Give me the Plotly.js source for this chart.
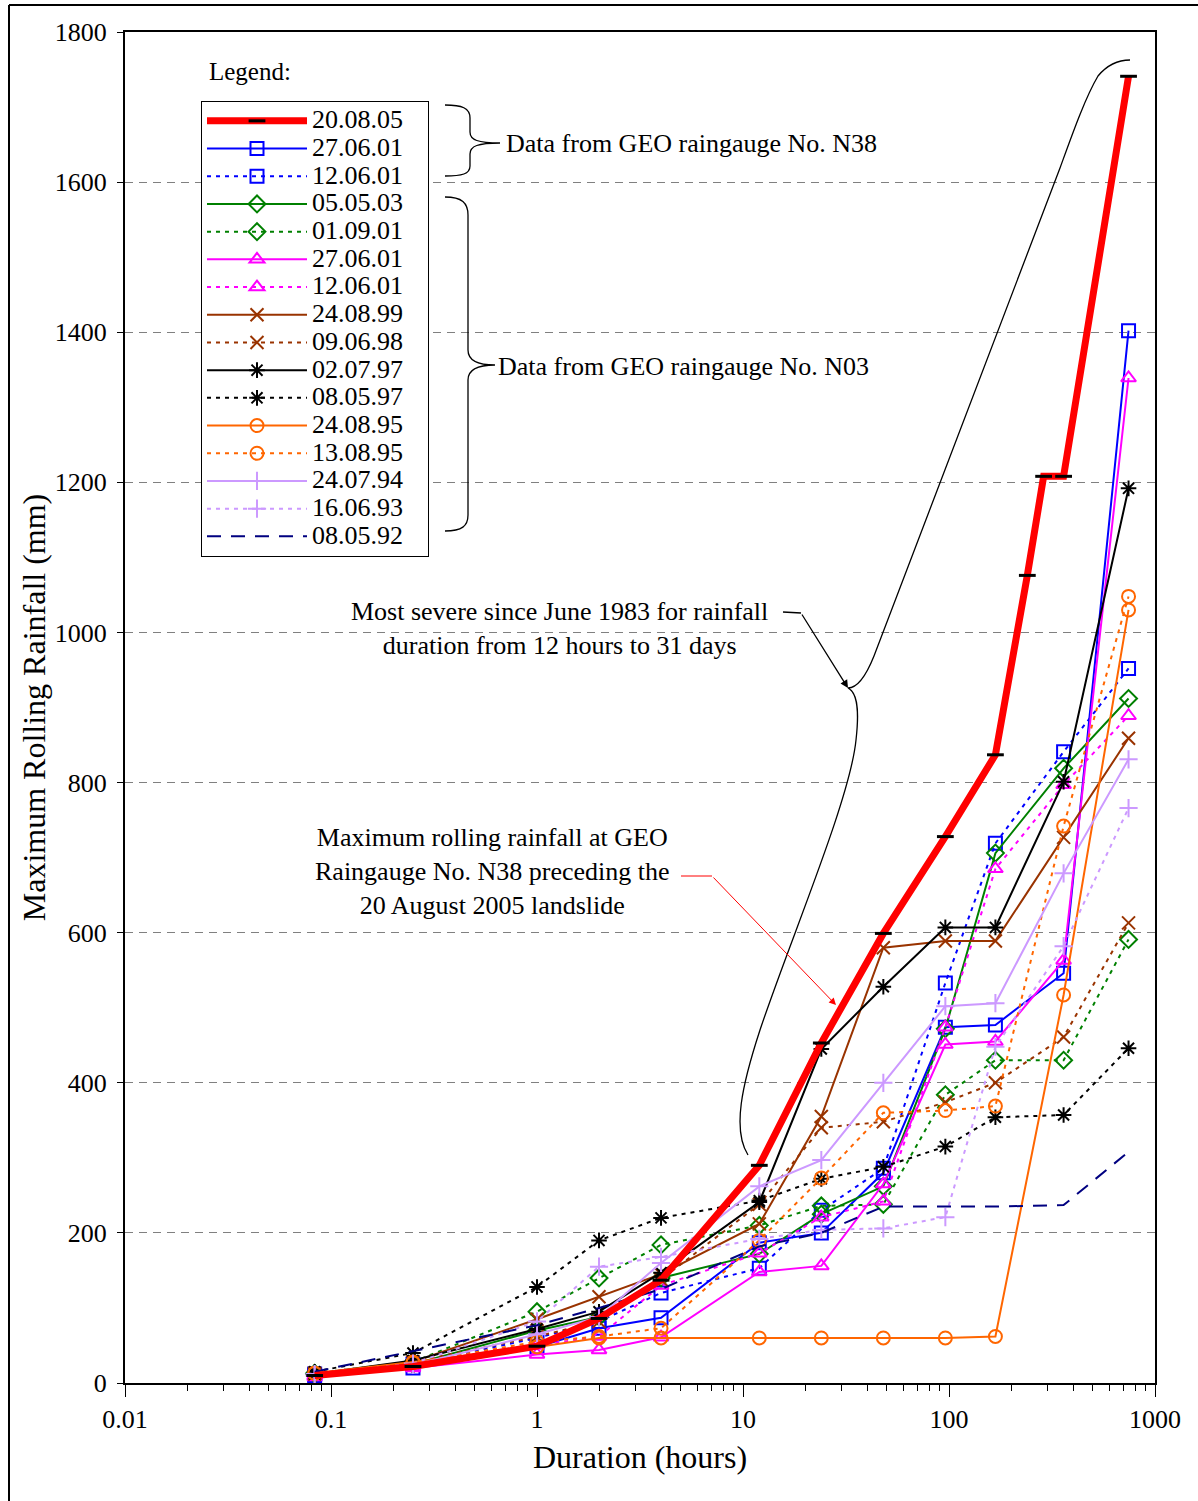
<!DOCTYPE html>
<html>
<head>
<meta charset="utf-8">
<script src="https://cdn.plot.ly/plotly-3.0.1.min.js"></script>
<style>html,body{margin:0;padding:0;background:#fff;}#chart{width:1198px;height:1501px;}</style>
</head>
<body>
<div id="chart"></div>
<script>
// ---- Data (durations in hours, rainfall in mm) ----
const durations = [0.0833, 0.25, 1, 2, 4, 12, 24, 48, 96, 168, 360, 744];
const redDurations = [0.0833, 0.25, 1, 2, 4, 12, 24, 48, 96, 168, 240, 288, 360, 744];

const r200805 = [10, 22, 49, 86, 137, 290, 453, 599, 728, 837, 1076, 1208, 1208, 1741];
const b270601 = [10, 20, 48, 73, 87, 187, 200, 280, 474, 477, 546, 1402];
const b120601 = [12, 25, 60, 82, 120, 153, 230, 286, 533, 719, 841, 952];
const g050503 = [12, 25, 70, 88, 140, 172, 225, 262, 472, 706, 819, 912];
const g010901 = [13, 28, 95, 140, 184, 210, 236, 238, 384, 430, 430, 591];
const m270601 = [8, 20, 38, 44, 61, 148, 156, 265, 451, 455, 563, 1339];
const m120601 = [10, 22, 50, 62, 130, 173, 221, 242, 474, 685, 797, 889];
const br240899 = [12, 28, 85, 115, 145, 212, 355, 580, 589, 589, 727, 859];
const br090698 = [13, 28, 62, 82, 138, 238, 340, 348, 374, 400, 461, 613];
const k020797 = [12, 30, 72, 95, 147, 241, 445, 528, 607, 607, 801, 1192];
const k080597 = [15, 40, 128, 190, 220, 243, 272, 288, 315, 354, 357, 446];
const o240895 = [13, 28, 48, 60, 60, 60, 60, 60, 60, 62, 517, 1030];
const o130895 = [13, 27, 55, 62, 73, 190, 273, 360, 363, 369, 742, 1048];
const l240794 = [10, 24, 65, 88, 160, 262, 297, 400, 502, 506, 679, 831];
const l160693 = [12, 26, 82, 155, 168, 192, 204, 206, 221, 448, 582, 766];
const n080592 = [15, 42, 77, 100, 125, 182, 200, 235, 235, 235, 237, 308];

const seriesNames = ['20.08.05','27.06.01','12.06.01','05.05.03','01.09.01','27.06.01','12.06.01',
  '24.08.99','09.06.98','02.07.97','08.05.97','24.08.95','13.08.95','24.07.94','16.06.93','08.05.92'];
const xTickLabels = ['0.01','0.1','1','10','100','1000'];

// ---- Styles ----
const FONT = "'Liberation Serif', 'Times New Roman', serif";
const DOT = '4px,5px';
const styles = [
  {c:'#FF0000', dash:'solid', sym:'line-ew-open', w:7},
  {c:'#0000FF', dash:'solid', sym:'square-open'},
  {c:'#0000FF', dash:DOT, sym:'square-open'},
  {c:'#008000', dash:'solid', sym:'diamond-open'},
  {c:'#008000', dash:DOT, sym:'diamond-open'},
  {c:'#FF00FF', dash:'solid', sym:'triangle-up-open'},
  {c:'#FF00FF', dash:DOT, sym:'triangle-up-open'},
  {c:'#993300', dash:'solid', sym:'x-thin-open'},
  {c:'#993300', dash:DOT, sym:'x-thin-open'},
  {c:'#000000', dash:'solid', sym:'asterisk-open'},
  {c:'#000000', dash:DOT, sym:'asterisk-open'},
  {c:'#FF6600', dash:'solid', sym:'circle-open'},
  {c:'#FF6600', dash:DOT, sym:'circle-open'},
  {c:'#CC99FF', dash:'solid', sym:'cross-thin-open'},
  {c:'#CC99FF', dash:DOT, sym:'cross-thin-open'},
  {c:'#000080', dash:'14px,10px', sym:null}
];
const values = [r200805,b270601,b120601,g050503,g010901,m270601,m120601,br240899,br090698,
  k020797,k080597,o240895,o130895,l240794,l160693,n080592];

const traces = [];
for (let i = 0; i < values.length; i++) {
  const s = styles[i];
  const t = {
    type:'scatter',
    x: i === 0 ? redDurations : durations,
    y: values[i],
    name: '<span style="font-size:26px">' + seriesNames[i] + '&nbsp;&nbsp;&nbsp;</span>',
    legendrank: i + 1,
    mode: s.sym ? 'lines+markers' : 'lines',
    line: {color: s.c, width: s.w || 2, dash: s.dash},
    hoverinfo: 'x+y+name'
  };
  if (s.sym) {
    if (i === 0) {
      t.marker = {symbol: s.sym, size: 12, color: '#000', line: {color: '#000', width: 3}};
    } else {
      t.marker = {symbol: s.sym, size: 13, color: s.c, line: {color: s.c, width: 2}};
    }
  }
  traces.push(t);
}
// draw red on top: move it to the end (legend order kept by legendrank)
traces.push(traces.shift());

// ---- pixel -> paper helpers for decorations ----
const L = 125, R = 1155, T = 32, B = 1383;
const px = p => (p - L) / (R - L);
const py = p => (B - p) / (B - T);
const P = s => s.replace(/(-?\d+\.?\d*),(-?\d+\.?\d*)/g, (m, a, b) => px(+a).toFixed(5) + ',' + py(+b).toFixed(5));

const shapes = [
  // outer figure frame (left + top)
  {type:'line', xref:'paper', yref:'paper', x0:px(9), x1:px(9), y0:py(5), y1:py(1501), line:{color:'#000', width:2}},
  {type:'line', xref:'paper', yref:'paper', x0:px(9), x1:px(1198), y0:py(5), y1:py(5), line:{color:'#000', width:2}},
  // brace N38
  {type:'path', xref:'paper', yref:'paper', line:{color:'#000', width:1.3},
   path: P('M445,105 C462,105 470,108 470,118 L470,132 C470,140 478,143 500,143 C478,143 470,146 470,154 L470,166 C470,174 462,176 445,176')},
  // brace N03
  {type:'path', xref:'paper', yref:'paper', line:{color:'#000', width:1.3},
   path: P('M445,197 C462,197 468,203 468,215 L468,350 C468,360 476,365 495,365 C476,365 468,370 468,380 L468,515 C468,526 462,531 445,531')},
  // large brace (12 hours to 31 days)
  {type:'path', xref:'paper', yref:'paper', line:{color:'#000', width:1.3},
   path: P('M748,1155 C732,1130 742,1085 760,1030 C790,940 850,800 856,740 C860,705 856,692 848,688 C858,688 866,676 874,656 L1060,168 C1072,135 1085,98 1098,76 C1108,64 1118,60 1130,60')},
  // leader stubs
  {type:'line', xref:'paper', yref:'paper', x0:px(783), x1:px(801), y0:py(612), y1:py(613), line:{color:'#000', width:1.3}},
  {type:'line', xref:'paper', yref:'paper', x0:px(681), x1:px(712), y0:py(876), y1:py(876), line:{color:'#FF0000', width:1}}
];

const annFont = {family: FONT, size: 26, color: '#000'};
const annotations = [
  {xref:'paper', yref:'paper', x:px(207), y:py(72), xanchor:'left', yanchor:'middle', showarrow:false,
   text:'Legend:', font:{family:FONT, size:25, color:'#000'}},
  {xref:'paper', yref:'paper', x:px(504), y:py(144), xanchor:'left', yanchor:'middle', showarrow:false,
   text:'Data from GEO raingauge No. N38', font:annFont},
  {xref:'paper', yref:'paper', x:px(496), y:py(366), xanchor:'left', yanchor:'middle', showarrow:false,
   text:'Data from GEO raingauge No. N03', font:annFont},
  {xref:'paper', yref:'paper', x:px(559), y:py(629), xanchor:'center', yanchor:'middle', showarrow:false,
   text:'Most severe since June 1983 for rainfall<br>duration from 12 hours to 31 days', font:annFont},
  {xref:'paper', yref:'paper', x:px(492), y:py(871), xanchor:'center', yanchor:'middle', showarrow:false,
   text:'Maximum rolling rainfall at GEO<br>Raingauge No. N38 preceding the<br>20 August 2005 landslide', font:annFont},
  {xref:'paper', yref:'paper', x:px(848), y:py(688), ax:-47, ay:-75, showarrow:true, text:'',
   arrowhead:2, arrowsize:1.2, arrowwidth:1.3, arrowcolor:'#000'},
  {xref:'paper', yref:'paper', x:px(836), y:py(1005), ax:-124, ay:-129, showarrow:true, text:'',
   arrowhead:2, arrowsize:1.4, arrowwidth:1, arrowcolor:'#FF0000'}
];

const layout = {
  width: 1198, height: 1501,
  margin: {l: L, r: 1198 - R, t: T, b: 1501 - B, pad: 0},
  paper_bgcolor: '#fff', plot_bgcolor: '#fff',
  font: {family: FONT, color: '#000', size: 24},
  showlegend: true,
  legend: {
    x: px(201), y: py(101), xanchor: 'left', yanchor: 'top',
    bgcolor: '#fff', bordercolor: '#000', borderwidth: 1,
    font: {family: FONT, size: 19, color: '#000'},
    itemwidth: 100, tracegroupgap: 0
  },
  xaxis: {
    type: 'log', range: [-2, 3], dtick: 1,
    tickvals: [0.01, 0.1, 1, 10, 100, 1000], ticktext: xTickLabels,
    ticks: 'outside', ticklen: 12, tickwidth: 1, tickcolor: '#000',
    minor: {ticks: 'outside', ticklen: 6, tickwidth: 1, tickcolor: '#000', dtick: 'D1', showgrid: false},
    showline: true, linecolor: '#000', linewidth: 2, mirror: true,
    showgrid: false, zeroline: false,
    tickfont: {family: FONT, size: 26, color: '#000'},
    title: {text: 'Duration (hours)', font: {family: FONT, size: 32, color: '#000'}, standoff: 12}
  },
  yaxis: {
    range: [0, 1800], dtick: 200,
    ticks: 'outside', ticklen: 6, tickwidth: 1, tickcolor: '#000',
    ticklabelstandoff: 5,
    showline: true, linecolor: '#000', linewidth: 2, mirror: true,
    showgrid: true, gridcolor: '#808080', gridwidth: 1, griddash: '8px,6px',
    zeroline: false,
    tickfont: {family: FONT, size: 26, color: '#000'},
    title: {text: 'Maximum Rolling Rainfall (mm)', font: {family: FONT, size: 32, color: '#000'}, standoff: 0}
  },
  shapes: shapes,
  annotations: annotations
};

Plotly.newPlot('chart', traces, layout, {displayModeBar: false, staticPlot: true});
</script>
</body>
</html>
